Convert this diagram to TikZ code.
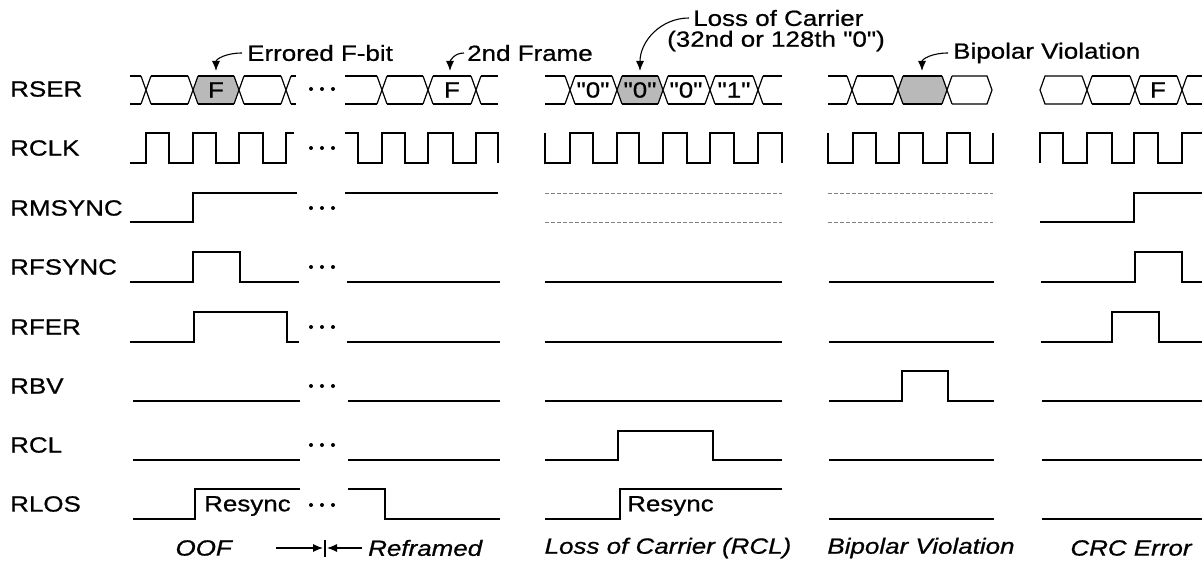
\documentclass[tikz,border=0pt]{standalone}
\usepackage{fontspec}
\setmainfont[FakeStretch=1.18, FakeBold=0.7, Ligatures=TeXOff]{Liberation Sans}
\usetikzlibrary{arrows.meta}
\newcommand{\mycross}[1]{\draw[sig] (#1-5,76)--(#1+5,104) (#1-5,104)--(#1+5,76);}
\newcommand{\myrails}[2]{\draw[sig] (#1,76)--(#2,76) (#1,104)--(#2,104);}
\newcommand{\myshade}[2]{\fill[gray!55] (#1,90)--(#1+5,76)--(#2-5,76)--(#2,90)--(#2-5,104)--(#1+5,104)--cycle;}
\begin{document}
\begin{tikzpicture}[x=1pt,y=-1pt,
  sig/.style={line width=1.2pt},
  ghost/.style={line width=0.9pt, gray, dash pattern=on 4pt off 2pt},
  txt/.style={inner sep=0pt, font=\fontsize{22}{24}\selectfont},
  lbl/.style={txt, anchor=west},
  note/.style={txt, anchor=west},
  captxt/.style={inner sep=0pt, font=\fontsize{22}{24}\selectfont\itshape},
  callout/.style={line width=1.1pt, -{Latex[length=10pt,width=8pt]}},
  flat/.style={line width=1.1pt, -{Latex[length=10pt,width=8pt]}}]
\useasboundingbox (0,0) rectangle (1202,567);

% ---- labels ----
\node[lbl] (lRSER) at (10,89) {RSER};
\node[lbl] (lRCLK) at (10,148) {RCLK};
\node[lbl] (lRMSYNC) at (10,208) {RMSYNC};
\node[lbl] (lRFSYNC) at (10,267) {RFSYNC};
\node[lbl] (lRFER) at (10,327) {RFER};
\node[lbl] (lRBV) at (10,386) {RBV};
\node[lbl] (lRCL) at (10,445) {RCL};
\node[lbl] (lRLOS) at (10,504) {RLOS};

% ---- ellipsis dots ----
\foreach \y in {89,148,208,267,327,386,445,505}
  \foreach \x in {311,322,333} \fill (\x,\y) circle (2pt);

% ---- RSER bus ----
\myshade{193}{239}
\myshade{617}{663}
\myshade{898}{947}
% section 1
\myrails{130}{141} \mycross{146} \myrails{151}{188} \mycross{193}
\myrails{198}{234} \mycross{239} \myrails{244}{281} \mycross{286} \myrails{291}{296}
% section 2
\myrails{345}{377} \mycross{382} \myrails{387}{423} \mycross{428}
\myrails{433}{471} \mycross{476} \myrails{481}{498}
% section 3
\myrails{545}{565} \mycross{570} \myrails{575}{612} \mycross{617}
\myrails{622}{658} \mycross{663} \myrails{668}{705} \mycross{710}
\myrails{715}{753} \mycross{758} \myrails{763}{782}
% section 4
\myrails{828}{847} \mycross{852} \myrails{857}{893} \mycross{898}
\myrails{903}{942} \mycross{947}
\draw[sig] (952,76)--(987,76)--(992,90)--(987,104)--(952,104);
% section 5
\draw[sig] (1082,76)--(1045,76)--(1040,90)--(1045,104)--(1082,104);
\mycross{1087} \myrails{1092}{1130} \mycross{1135} \myrails{1140}{1177}
\mycross{1182} \myrails{1187}{1202}

% bus cell texts
\node[txt] (c1) at (216,90) {F};
\node[txt] (c2) at (452,90) {F};
\node[txt] (c3) at (593,90) {"0"};
\node[txt] (c4) at (640,90) {"0"};
\node[txt] (c5) at (686,90) {"0"};
\node[txt] (c6) at (734,90) {"1"};
\node[txt] (c7) at (1158,90) {F};

% ---- RCLK ----
\draw[sig] (130,163) -| (146,133) -| (169,163) -| (193,133) -| (216,163) -| (239,133) -| (263,163) -| (286,133) -- (294,133);
\draw[sig] (345,133) -| (358,163) -| (382,133) -| (405,163) -| (428,133) -| (453,163) -| (476,133) -| (498,163);
\draw[sig] (545,133) -- (545,163) -| (570,133) -| (593,163) -| (617,133) -| (639,163) -| (663,133) -| (687,163) -| (710,133) -| (734,163) -| (758,133) -| (782,163);
\draw[sig] (828,133) -- (828,163) -| (853,133) -| (876,163) -| (899,133) -| (923,163) -| (947,133) -| (970,163) -| (993,133);
\draw[sig] (1040,163) -- (1040,133) -| (1063,163) -| (1087,133) -| (1112,163) -| (1134,133) -| (1158,163) -| (1182,133) -- (1202,133);

% ---- RMSYNC ----
\draw[sig] (130,222) -| (193,193) -- (297,193);
\draw[sig] (345,193) -- (498,193);
\draw[ghost] (545,193) -- (782,193) (545,222) -- (782,222);
\draw[ghost] (828,193) -- (993,193) (828,222) -- (993,222);
\draw[sig] (1040,222) -| (1134,193) -- (1202,193);

% ---- RFSYNC ----
\draw[sig] (130,282) -| (193,252) -| (240,282) -- (299,282);
\draw[sig] (347,282) -- (500,282);
\draw[sig] (545,282) -- (782,282);
\draw[sig] (829,282) -- (994,282);
\draw[sig] (1041,282) -| (1135,252) -| (1182,282) -- (1202,282);

% ---- RFER ----
\draw[sig] (130,342) -| (194,312) -| (287,342) -- (299,342);
\draw[sig] (347,342) -- (500,342);
\draw[sig] (545,342) -- (782,342);
\draw[sig] (829,342) -- (994,342);
\draw[sig] (1041,342) -| (1112,312) -| (1159,342) -- (1202,342);

% ---- RBV ----
\draw[sig] (133,401) -- (300,401);
\draw[sig] (348,401) -- (500,401);
\draw[sig] (545,401) -- (782,401);
\draw[sig] (829,401) -| (902,371) -| (948,401) -- (994,401);
\draw[sig] (1042,401) -- (1202,401);

% ---- RCL ----
\draw[sig] (133,460) -- (300,460);
\draw[sig] (348,460) -- (500,460);
\draw[sig] (545,460) -| (618,431) -| (713,460) -- (782,460);
\draw[sig] (829,460) -- (994,460);
\draw[sig] (1042,460) -- (1202,460);

% ---- RLOS ----
\draw[sig] (133,519) -| (195,489) -- (300,489);
\draw[sig] (348,489) -| (385,519) -- (500,519);
\draw[sig] (545,519) -| (620,489) -- (782,489);
\draw[sig] (829,519) -- (994,519);
\draw[sig] (1042,519) -- (1202,519);
\node[note] (rs1) at (204,506) {Resync};
\node[note] (rs2) at (627,506) {Resync};

% ---- callouts ----
\node[note] (ef) at (247,53) {Errored F-bit};
\coordinate (efT) at (216,71);
\draw[callout] ([xshift=-5pt]ef.west) .. controls +(-16,0) and +(0,-12) .. (efT);
\node[note] (sf) at (467,53) {2nd Frame};
\coordinate (sfT) at (450,71);
\draw[callout] ([xshift=-3pt]sf.west) .. controls +(-10,0) and +(0,-10) .. (sfT);
\node[note] (lc) at (693,18) {Loss of Carrier};
\node[note] (lc2) at (667,41) {(32nd or 128th "0")};
\coordinate (lcT) at (640,71);
\draw[callout] ([xshift=-4pt]lc.west) .. controls +(-28,0) and +(0,-30) .. (lcT);
\node[note] (bv) at (953,53) {Bipolar Violation};
\coordinate (bvT) at (922,71);
\draw[callout] ([xshift=-5pt]bv.west) .. controls +(-16,0) and +(0,-12) .. (bvT);

% ---- bottom captions ----
\node[captxt, anchor=east] (oof) at (232,548) {OOF};
\node[captxt, anchor=west] (rf) at (368,548) {Reframed};
\node[captxt] (lcc) at (668,548) {Loss of Carrier (RCL)};
\node[captxt] (bvc) at (921,548) {Bipolar Violation};
\node[captxt] (crc) at (1131,548) {CRC Error};
\coordinate (barT) at (325,540);
\coordinate (barB) at (325,557);
\draw[line width=1.1pt] (barT) -- (barB);
\coordinate (tipL) at (323,548);
\coordinate (tipR) at (327,548);
\draw[flat] ([xshift=44pt]oof.east) -- (tipL);
\draw[flat] ([xshift=-6pt]rf.west) -- (tipR);
\end{tikzpicture}
\end{document}
